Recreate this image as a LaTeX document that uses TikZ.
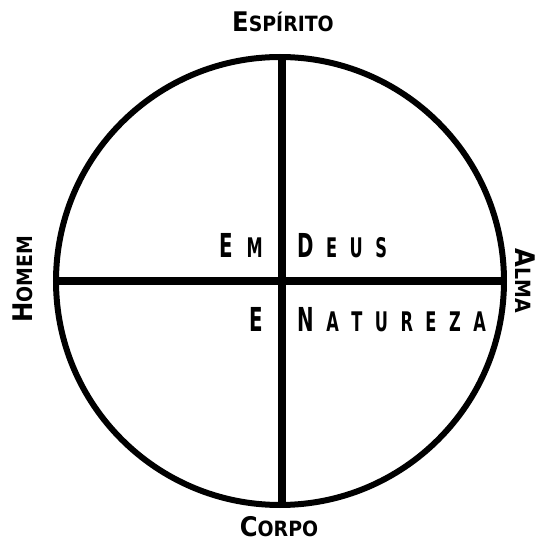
\documentclass[tikz,border=0pt]{standalone}
\usepackage{fontspec}
\usepackage{tikz}
\usetikzlibrary{positioning}
\newfontfamily\outerfont[FakeStretch=0.9]{DejaVu Sans}
\newfontfamily\innerfont[FakeStretch=0.6]{DejaVu Sans}
\newcommand\capsc[4]{{\fontsize{#1}{#1}\selectfont #3}{\fontsize{#2}{#2}\selectfont #4}}
\newcommand\bigltr[1]{{\fontsize{33}{33}\selectfont #1}}
\newcommand\gap[1][12.5pt]{\hspace{#1}}

\begin{document}
\begin{tikzpicture}[
x=1pt,
y=1pt,
outer/.style={inner sep=0pt,font=\outerfont\bfseries},
inner/.style={inner sep=0pt,font=\innerfont\bfseries\fontsize{27}{27}\selectfont},
ring/.style={line width=6pt},
cross/.style={line width=8pt}
]
\useasboundingbox (0,0) rectangle (540,550);
\draw[ring] (280,269) circle (224);
\coordinate (top) at (282,493);
\coordinate (bottom) at (282,45);
\coordinate (left) at (56,269);
\coordinate (right) at (504,269);
\draw[cross] (left) -- (right);
\draw[cross] (top) -- (bottom);

\node[outer,anchor=base] (espirito) at (283,518) {\capsc{27}{21}{E}{SPÍRITO}};
\node[outer,anchor=base] (corpo) at (279,13) {\capsc{27}{21}{C}{ORPO}};
\node[outer,anchor=base,rotate=90] (homem) at (32,271) {\capsc{27}{21}{H}{OMEM}};
\node[outer,anchor=base,rotate=-90] (alma) at (515,269) {\capsc{27}{21}{A}{LMA}};

\node[inner,anchor=base east] (em) at (263,292) {\bigltr{E}\gap[14pt]M};
\node[inner,anchor=base west] (deus) at (297,292) {\bigltr{D}\gap E\gap U\gap S};
\node[inner,anchor=base east] (e) at (263,218) {\bigltr{E}};
\node[inner,anchor=base west] (natureza) at (297,218) {\bigltr{N}\gap A\gap T\gap U\gap R\gap E\gap Z\gap A};
\end{tikzpicture}
\end{document}
